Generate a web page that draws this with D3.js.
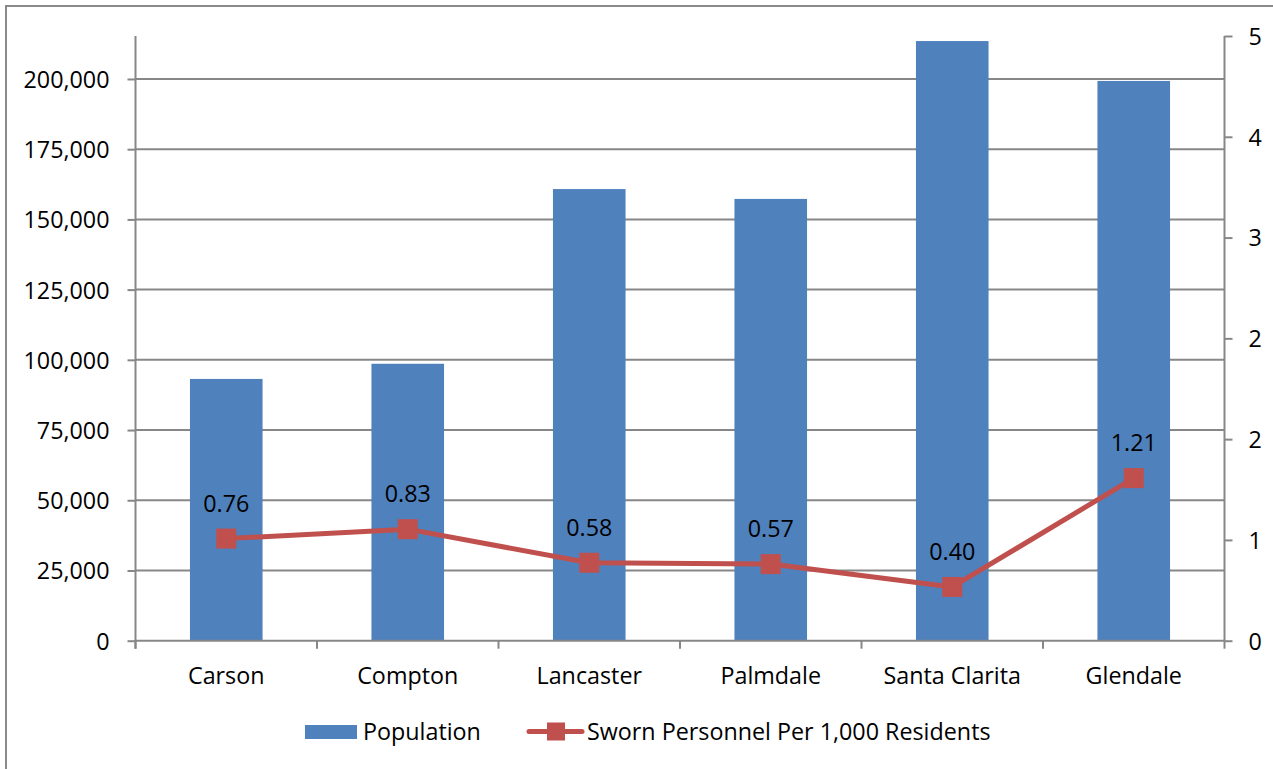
<!DOCTYPE html>
<html>
<head>
<meta charset="utf-8">
<script src="https://cdn.jsdelivr.net/npm/d3@7"></script>
<style>
  html, body { margin: 0; padding: 0; background: #fff; }
  svg { display: block; font-family: "Open Sans", "Noto Sans", sans-serif; }
</style>
</head>
<body>
<svg id="chart" width="1273" height="769"></svg>
<script>
// Cities shown along the category axis
const cities = ["Carson", "Compton", "Lancaster", "Palmdale", "Santa Clarita", "Glendale"];
// Resident population per city (bars, left axis)
const population = [93200, 98600, 160800, 157300, 213500, 199300];
// Sworn personnel per 1,000 residents (line, right axis)
const swornPer1000 = [0.76, 0.83, 0.58, 0.57, 0.40, 1.21];
// Left axis ticks
const leftTicks = [0, 25000, 50000, 75000, 100000, 125000, 150000, 175000, 200000];
const leftMax = 215300;
// Right axis: six equal divisions, labels as printed
const rightLabels = ["0", "1", "2", "2", "3", "4", "5"];
const rightMax = 4.5;

const seriesNames = ["Population", "Sworn Personnel Per 1,000 Residents"];

const barColor = "#4F81BD";
const lineColor = "#C0504D";
const gridColor = "#878787";
const fontSize = 23.3;

const svg = d3.select("#chart");

const plot = { left: 135.5, right: 1224.5, top: 36, bottom: 640.7 };

// outer chart frame
svg.append("rect")
  .attr("x", 6).attr("y", 6)
  .attr("width", 1300).attr("height", 800)
  .attr("fill", "none")
  .attr("stroke", "#8a8a8a")
  .attr("stroke-width", 2);

const x = d3.scaleBand()
  .domain(cities)
  .range([plot.left, plot.right])
  .paddingInner(0.6)
  .paddingOuter(0.3);

const yLeft = d3.scaleLinear().domain([0, leftMax]).range([plot.bottom, plot.top]);
const yRight = d3.scaleLinear().domain([0, rightMax]).range([plot.bottom, plot.top]);

// horizontal gridlines
svg.append("g")
  .selectAll("line")
  .data(leftTicks.slice(1))
  .join("line")
  .attr("x1", plot.left).attr("x2", plot.right)
  .attr("y1", d => yLeft(d)).attr("y2", d => yLeft(d))
  .attr("stroke", gridColor).attr("stroke-width", 2);

// left axis
const leftAxis = d3.axisLeft(yLeft)
  .tickValues(leftTicks)
  .tickSize(8)
  .tickPadding(18)
  .tickFormat(d3.format(","));
const gl = svg.append("g").attr("transform", `translate(${plot.left},0)`).call(leftAxis);
gl.select(".domain").remove();
gl.selectAll(".tick line").attr("stroke", gridColor).attr("stroke-width", 2);
gl.selectAll(".tick text").attr("font-size", fontSize).attr("fill", "#000")
  .attr("font-family", "Open Sans").attr("dy", "0.36em");
gl.append("line")
  .attr("x1", 0).attr("x2", 0)
  .attr("y1", plot.top).attr("y2", plot.bottom + 8)
  .attr("stroke", gridColor).attr("stroke-width", 2);

// right axis
const rightTickVals = rightLabels.map((_, i) => rightMax * i / (rightLabels.length - 1));
const rightAxis = d3.axisRight(yRight)
  .tickValues(rightTickVals)
  .tickSize(8)
  .tickPadding(16)
  .tickFormat((d, i) => rightLabels[i]);
const gr = svg.append("g").attr("transform", `translate(${plot.right},0)`).call(rightAxis);
gr.select(".domain").remove();
gr.selectAll(".tick line").attr("stroke", gridColor).attr("stroke-width", 2);
gr.selectAll(".tick text").attr("font-size", fontSize).attr("fill", "#000")
  .attr("font-family", "Open Sans").attr("dy", "0.36em");
gr.append("line")
  .attr("x1", 0).attr("x2", 0)
  .attr("y1", plot.top).attr("y2", plot.bottom)
  .attr("stroke", gridColor).attr("stroke-width", 2);

// bars
svg.append("g")
  .selectAll("rect")
  .data(cities)
  .join("rect")
  .attr("x", d => x(d))
  .attr("width", x.bandwidth())
  .attr("y", (d, i) => yLeft(population[i]))
  .attr("height", (d, i) => yLeft(0) - yLeft(population[i]))
  .attr("fill", barColor);

// bottom category axis
const boundaries = d3.range(cities.length + 1).map(i => plot.left + i * x.step());
const gb = svg.append("g");
gb.append("line")
  .attr("x1", plot.left).attr("x2", plot.right)
  .attr("y1", plot.bottom).attr("y2", plot.bottom)
  .attr("stroke", gridColor).attr("stroke-width", 2);
gb.selectAll("line.tk")
  .data(boundaries)
  .join("line")
  .attr("class", "tk")
  .attr("x1", d => d).attr("x2", d => d)
  .attr("y1", plot.bottom).attr("y2", plot.bottom + 8)
  .attr("stroke", gridColor).attr("stroke-width", 2);
gb.selectAll("text")
  .data(cities)
  .join("text")
  .attr("x", d => x(d) + x.bandwidth() / 2)
  .attr("y", 684)
  .attr("text-anchor", "middle")
  .attr("font-size", fontSize)
  .attr("fill", "#000")
  .text(d => d);

// line series
const cx = (d, i) => x(cities[i]) + x.bandwidth() / 2;
const line = d3.line()
  .x((d, i) => cx(d, i))
  .y(d => yRight(d));
svg.append("path")
  .datum(swornPer1000)
  .attr("d", line)
  .attr("fill", "none")
  .attr("stroke", lineColor)
  .attr("stroke-width", 5)
  .attr("stroke-linejoin", "round");

const ms = 20;
svg.append("g")
  .selectAll("rect")
  .data(swornPer1000)
  .join("rect")
  .attr("x", (d, i) => cx(d, i) - ms / 2)
  .attr("y", d => yRight(d) - ms / 2)
  .attr("width", ms).attr("height", ms)
  .attr("fill", lineColor);

// data labels
svg.append("g")
  .selectAll("text")
  .data(swornPer1000)
  .join("text")
  .attr("x", (d, i) => cx(d, i))
  .attr("y", d => yRight(d) - 27)
  .attr("text-anchor", "middle")
  .attr("font-size", fontSize)
  .attr("fill", "#000")
  .text(d => d3.format(".2f")(d));

// legend
const lg = svg.append("g");
lg.append("rect")
  .attr("x", 305).attr("y", 725)
  .attr("width", 52).attr("height", 14)
  .attr("fill", barColor);
lg.append("text")
  .attr("x", 363).attr("y", 739.5)
  .attr("font-size", fontSize).attr("fill", "#000")
  .text(seriesNames[0]);
lg.append("line")
  .attr("x1", 529).attr("x2", 582)
  .attr("y1", 731.5).attr("y2", 731.5)
  .attr("stroke", lineColor).attr("stroke-width", 5)
  .attr("stroke-linecap", "round");
lg.append("rect")
  .attr("x", 547).attr("y", 722.5)
  .attr("width", 18).attr("height", 18)
  .attr("fill", lineColor);
lg.append("text")
  .attr("x", 587).attr("y", 739.5)
  .attr("font-size", fontSize).attr("fill", "#000")
  .text(seriesNames[1]);
</script>
</body>
</html>
